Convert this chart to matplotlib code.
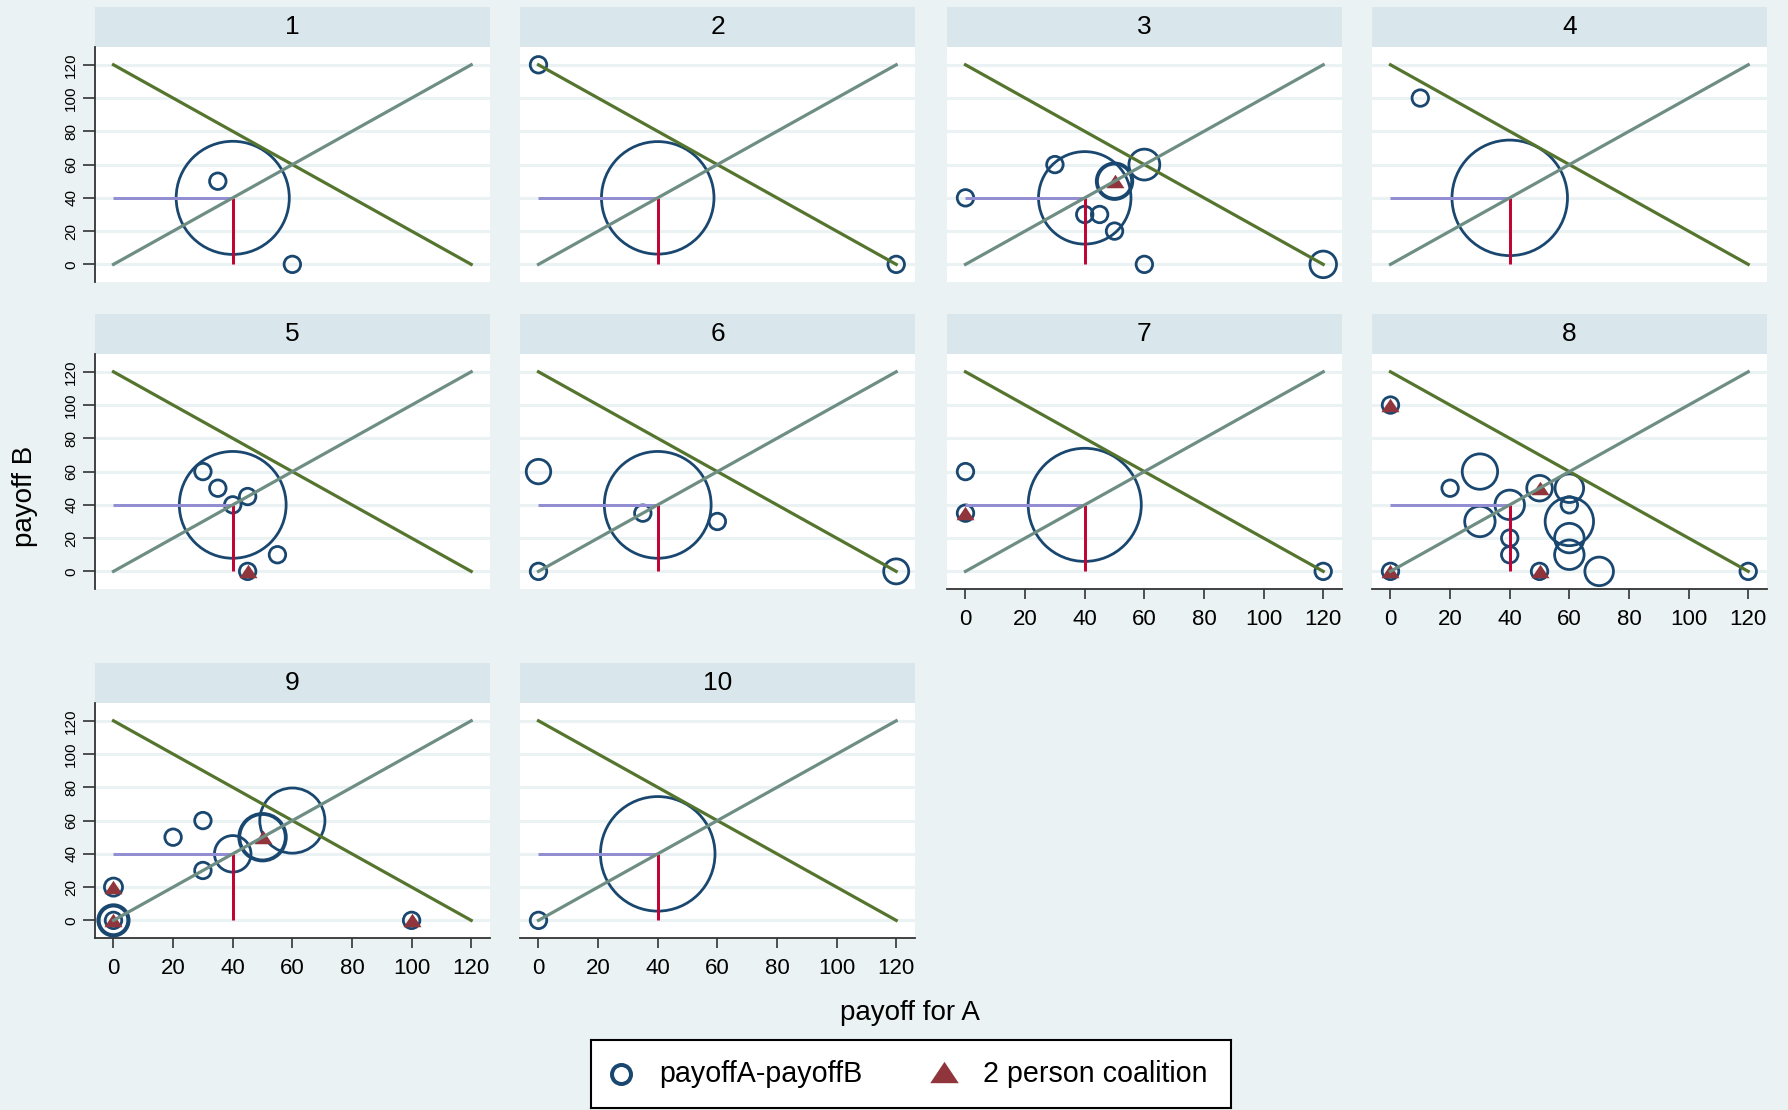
import matplotlib
matplotlib.use('Agg')
import matplotlib.pyplot as plt
from matplotlib.patches import Rectangle

plt.rcParams['font.family'] = ['Liberation Sans', 'DejaVu Sans']

# ---------------- data ----------------
panel_ids = [1, 2, 3, 4, 5, 6, 7, 8, 9, 10]

# weighted circles (payoffA-payoffB), weight = frequency
circle_x = {
    1: [40, 35, 60],
    2: [40, 0, 120],
    3: [40, 0, 30, 40, 45, 50, 60, 120, 60, 50, 50],
    4: [40, 10],
    5: [40, 30, 35, 40, 45, 55, 45],
    6: [40, 0, 0, 35, 60, 120],
    7: [40, 0, 0, 120],
    8: [0, 0, 20, 30, 40, 30, 40, 40, 50, 60, 60, 60, 60, 60, 70, 50, 120],
    9: [0, 0, 0, 0, 20, 30, 30, 40, 50, 50, 60, 100],
    10: [40, 0],
}
circle_y = {
    1: [40, 50, 0],
    2: [40, 120, 0],
    3: [40, 40, 60, 30, 30, 20, 0, 0, 60, 50, 50],
    4: [40, 100],
    5: [40, 60, 50, 40, 45, 10, 0],
    6: [40, 60, 0, 35, 30, 0],
    7: [40, 60, 35, 0],
    8: [100, 0, 50, 60, 40, 30, 20, 10, 50, 50, 40, 30, 20, 10, 0, 0, 0],
    9: [20, 0, 0, 0, 50, 60, 30, 40, 50, 50, 60, 0],
    10: [40, 0],
}
circle_w = {
    1: [47, 1, 1],
    2: [46.5, 1, 1],
    3: [31.4, 1, 1, 1, 1, 1, 1, 2.6, 3.5, 4.3, 4.9],
    4: [49, 1],
    5: [41.9, 1, 1, 1, 1, 1, 1],
    6: [41.9, 2.2, 1, 1, 1, 2.3],
    7: [47, 1, 1, 1],
    8: [1, 1, 1, 4.6, 3.2, 3.4, 1, 1, 2.4, 3, 1, 8.6, 3.2, 3.2, 3, 1, 1],
    9: [1.2, 1, 3, 3.6, 1, 1, 1, 4.9, 7.6, 8.3, 15.6, 1],
    10: [48.2, 1],
}

# 2 person coalitions
tri_x = {3: [50], 5: [45], 7: [0], 8: [0, 0, 50, 50], 9: [0, 0, 50, 100]}
tri_y = {3: [50], 5: [0], 7: [35], 8: [100, 0, 50, 0], 9: [20, 0, 50, 0]}

# reference lines
frontier_x = [0, 120]
frontier_y = [120, 0]
diag_x = [0, 120]
diag_y = [0, 120]
ref_x = 40
ref_y = 40

tick_vals = [0, 20, 40, 60, 80, 100, 120]
x_label = "payoff for A"
y_label = "payoff B"
legend_labels = ["payoffA-payoffB", "2 person coalition"]

# ---------------- style ----------------
W, H, DPI = 1788, 1110, 100
BG = '#eaf2f3'
HEADER = '#d9e6eb'
GRID = '#eaf2f3'
NAVY = '#1a476f'
MAROON = '#90353b'
FOREST = '#55752f'
TEAL = '#6e8e84'
CRAN = '#c10534'
LAV = '#938dd2'
PX = 72.0 / DPI  # points per pixel

col_left = [95, 520, 947, 1372]
row_top = [7, 314, 663]
PW, HH, AH = 395, 40, 235

fig = plt.figure(figsize=(W / DPI, H / DPI), dpi=DPI, facecolor=BG)

tri_marker = [(-1, -0.75), (1, -0.75), (0, 0.75), (-1, -0.75)]
base_s = (16.5 * PX) ** 2

for i, pid in enumerate(panel_ids):
    r, c = divmod(i, 4)
    left = col_left[c]
    top = row_top[r] + HH
    ax = fig.add_axes([left / W, 1 - (top + AH) / H, PW / W, AH / H])
    ax.set_facecolor('white')
    ax.set_xlim(-6.2, 126.3)
    ax.set_ylim(-10.6, 130.7)

    # header strip
    ax.add_patch(Rectangle((0, 1), 1, HH / AH, transform=ax.transAxes,
                           facecolor=HEADER, edgecolor='none', clip_on=False))
    ax.text(0.5, 1 + HH / AH / 2, str(pid), transform=ax.transAxes,
            ha='center', va='center', fontsize=19, color='black')

    ax.set_yticks(tick_vals)
    ax.set_xticks(tick_vals)
    ax.grid(axis='y', color=GRID, lw=2.2, zorder=0)
    ax.grid(axis='x', visible=False)
    ax.set_axisbelow(True)

    for s in ['top', 'right']:
        ax.spines[s].set_visible(False)
    show_left = (c == 0)
    show_bottom = pid in (7, 8, 9, 10)
    ax.spines['left'].set_visible(show_left)
    ax.spines['bottom'].set_visible(show_bottom)
    for s in ['left', 'bottom']:
        ax.spines[s].set_color('#333333')
        ax.spines[s].set_linewidth(1.3)

    ax.tick_params(axis='y', left=show_left, labelleft=show_left,
                   length=12 * PX, width=1.2, color='#333333',
                   labelsize=11, pad=3.5)
    if show_left:
        for lbl in ax.get_yticklabels():
            lbl.set_rotation(90)
            lbl.set_va('center')
    ax.tick_params(axis='x', bottom=show_bottom, labelbottom=show_bottom,
                   length=10 * PX, width=1.2, color='#333333',
                   labelsize=16, pad=7.5)

    # circles
    sizes = [w * base_s for w in circle_w[pid]]
    ax.scatter(circle_x[pid], circle_y[pid], s=sizes, facecolors='none',
               edgecolors=NAVY, linewidths=2.0, zorder=3, clip_on=False)
    # triangles
    if pid in tri_x:
        ax.scatter(tri_x[pid], tri_y[pid], s=(18 * PX) ** 2, marker=tri_marker,
                   color=MAROON, linewidths=0, zorder=4, clip_on=False)

    # reference lines
    ax.plot([0, ref_x], [ref_y, ref_y], color=LAV, lw=3 * PX, zorder=5,
            solid_capstyle='butt')
    ax.plot([ref_x, ref_x], [0, ref_y], color=CRAN, lw=3 * PX, zorder=5,
            solid_capstyle='butt')
    ax.plot(frontier_x, frontier_y, color=FOREST, lw=3.2 * PX, zorder=6)
    ax.plot(diag_x, diag_y, color=TEAL, lw=3.2 * PX, zorder=7)

# axis titles
fig.text(910 / W, 1 - 1013 / H, x_label, ha='center', va='center', fontsize=20)
fig.text(25 / W, 1 - 496 / H, y_label, ha='center', va='center', fontsize=20,
         rotation=90)

# legend box
lx0, lx1, ly0, ly1 = 591, 1231, 1040, 1108
lax = fig.add_axes([lx0 / W, 1 - ly1 / H, (lx1 - lx0) / W, (ly1 - ly0) / H])
lax.set_xlim(0, lx1 - lx0)
lax.set_ylim(0, ly1 - ly0)
lax.set_facecolor('white')
lax.set_xticks([])
lax.set_yticks([])
for s in lax.spines.values():
    s.set_color('black')
    s.set_linewidth(1.5)
ymid = (ly1 - ly0) / 2
lax.plot([621 - lx0], [ymid], marker='o', ms=19 * PX, mfc='none', mec=NAVY,
         mew=4 * PX, ls='none')
lax.text(659 - lx0, ymid, legend_labels[0], va='center', ha='left', fontsize=20.6)
lax.plot([944 - lx0], [ymid + 2], marker=tri_marker, ms=28.5 * PX, color=MAROON,
         mew=0, ls='none')
lax.text(983 - lx0, ymid, legend_labels[1], va='center', ha='left', fontsize=20.6)

fig.savefig('out.png', dpi=DPI, facecolor=BG)
